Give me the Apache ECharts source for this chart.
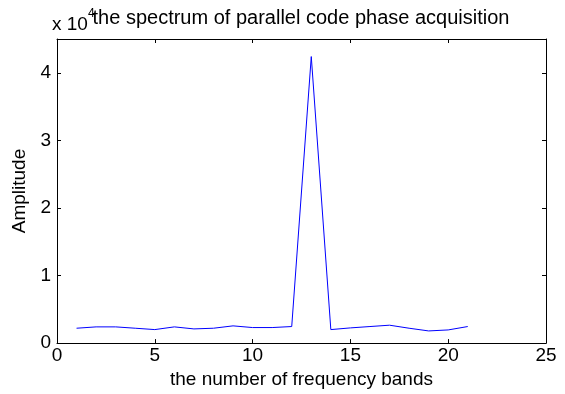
<!DOCTYPE html>
<html lang="en">
<head>
	<meta charset="UTF-8">
	<title>spectrum</title>
	<script src="https://cdn.jsdelivr.net/npm/echarts@6/dist/echarts.min.js"></script>
	<style>
		html, body { margin: 0; padding: 0; background: #fff; }
		#main { width: 565px; height: 394px; }
	</style>
</head>
<body>
	<div id="main"></div>
	<script>
		// frequency band index and amplitude (x 10^4)
		var bands = [1, 2, 3, 4, 5, 6, 7, 8, 9, 10, 11, 12, 13, 14, 15, 16, 17, 18, 19, 20, 21];
		var amplitude = [0.22, 0.24, 0.24, 0.22, 0.20, 0.24, 0.21, 0.22, 0.255, 0.23, 0.23, 0.245,
			4.24, 0.20, 0.225, 0.245, 0.265, 0.22, 0.18, 0.195, 0.245];
		var xTicks = [0, 5, 10, 15, 20, 25];
		var yTicks = [0, 1, 2, 3, 4];

		var font = 'Liberation Sans, Arial, sans-serif';
		var points = bands.map(function (b, i) { return [b, amplitude[i]]; });

		var tickStyle = { show: true, inside: true, length: 4, lineStyle: { color: '#000', width: 1 } };
		var lineStyle = { show: true, onZero: false, lineStyle: { color: '#000', width: 1 } };

		var option = {
			animation: false,
			backgroundColor: '#fff',
			grid: { left: 57, right: 19, top: 39, bottom: 49 },
			graphic: [
				{
					type: 'text', x: 301, y: 8,
					style: { text: 'the spectrum of parallel code phase acquisition', font: '20px ' + font, fill: '#000', align: 'center' }
				},
				{
					type: 'text', left: 52, top: 15,
					style: { text: 'x 10', font: '19px ' + font, fill: '#000' }
				},
				{
					type: 'text', left: 88, top: 8,
					style: { text: '4', font: '12px ' + font, fill: '#000' }
				}
			],
			xAxis: [
				{
					type: 'value', min: xTicks[0], max: xTicks[xTicks.length - 1], interval: 5,
					name: 'the number of frequency bands', nameLocation: 'middle', nameGap: 26,
					nameTextStyle: { fontFamily: font, fontSize: 19, color: '#000' },
					axisLine: lineStyle, axisTick: tickStyle, splitLine: { show: false },
					axisLabel: { fontFamily: font, fontSize: 19, color: '#000', margin: 3 }
				},
				{
					type: 'value', position: 'top', min: xTicks[0], max: xTicks[xTicks.length - 1], interval: 5,
					axisLine: lineStyle, axisTick: tickStyle, splitLine: { show: false },
					axisLabel: { show: false }
				}
			],
			yAxis: [
				{
					type: 'value', min: 0, max: 4.5, interval: 1,
					name: 'Amplitude', nameLocation: 'middle', nameGap: 22,
					nameTextStyle: { fontFamily: font, fontSize: 19, color: '#000' },
					axisLine: lineStyle, axisTick: tickStyle, splitLine: { show: false },
					axisLabel: {
						fontFamily: font, fontSize: 19, color: '#000', margin: 6,
						formatter: function (v) { return yTicks.indexOf(v) >= 0 ? String(v) : ''; }
					}
				},
				{
					type: 'value', position: 'right', min: 0, max: 4.5, interval: 1,
					axisLine: lineStyle, axisTick: tickStyle, splitLine: { show: false },
					axisLabel: { show: false }
				}
			],
			series: [
				{
					type: 'line', xAxisIndex: 0, yAxisIndex: 0,
					data: points, symbol: 'none',
					lineStyle: { color: '#0000ff', width: 1 }
				}
			]
		};

		var myChart = echarts.init(document.getElementById('main'));
		myChart.setOption(option);
	</script>
</body>
</html>
